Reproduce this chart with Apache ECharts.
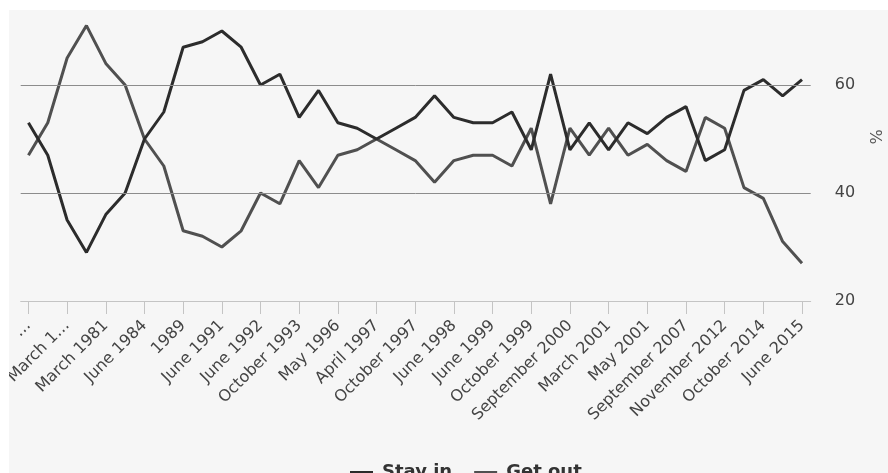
<!DOCTYPE html>
<html>
<head>
<meta charset="utf-8">
<script src="https://cdn.jsdelivr.net/npm/echarts@6/dist/echarts.min.js"></script>
<style>
  html, body { margin: 0; padding: 0; background: #ffffff; }
  #outer { position: relative; width: 888px; height: 473px; background: #ffffff; overflow: hidden; }
  #chart { position: absolute; left: 9px; top: 10px; width: 879px; height: 463px; background: #f6f6f6; }
</style>
</head>
<body>
<div id="outer"><div id="chart"></div></div>
<script>
// Tick labels shown under every second poll (index 0, 2, 4, ... 40)
const tickLabels = [
  "…", "March 1…", "March 1981", "June 1984", "1989", "June 1991", "June 1992",
  "October 1993", "May 1996", "April 1997", "October 1997", "June 1998", "June 1999",
  "October 1999", "September 2000", "March 2001", "May 2001", "September 2007",
  "November 2012", "October 2014", "June 2015"
];

// Poll values (%), one per poll
const stayIn = [
  53, 47, 35, 29, 36, 40, 50, 55, 67, 68,
  70, 67, 60, 62, 54, 59, 53, 52, 50, 52,
  54, 58, 54, 53, 53, 55, 48, 62, 48, 53,
  48, 53, 51, 54, 56, 46, 48, 59, 61, 58,
  61
];
const getOut = [
  47, 53, 65, 71, 64, 60, 50, 45, 33, 32,
  30, 33, 40, 38, 46, 41, 47, 48, 50, 48,
  46, 42, 46, 47, 47, 45, 52, 38, 52, 47,
  52, 47, 49, 46, 44, 54, 52, 41, 39, 31,
  27
];

const yLabelValues = [20, 40, 60];
const gridValues = [40, 60];

const tickPositions = tickLabels.map((_, k) => k * 2);

const chart = echarts.init(document.getElementById('chart'), null, { renderer: 'canvas' });

chart.setOption({
  backgroundColor: 'transparent',
  animation: false,
  textStyle: { fontFamily: 'DejaVu Sans' },
  grid: { left: 11.7, right: 77.3, top: 4.8, bottom: 172, containLabel: false, outerBoundsMode: 'none' },
  legend: {
    data: ['Stay in', 'Get out'],
    left: 341,
    top: 453.5,
    padding: 0,
    icon: 'rect',
    itemWidth: 23,
    itemHeight: 3,
    itemGap: 22,
    textStyle: {
      fontFamily: 'DejaVu Sans',
      fontWeight: 'bold',
      fontSize: 18,
      color: '#333333',
      padding: [0, 0, 0, 4]
    }
  },
  xAxis: {
    type: 'value',
    min: -0.4,
    max: 40.45,
    axisLine: { show: true, lineStyle: { color: '#c4c4c4', width: 1 } },
    axisTick: {
      show: true,
      length: 13,
      customValues: tickPositions,
      lineStyle: { color: '#c4c4c4', width: 1 }
    },
    axisLabel: {
      show: true,
      customValues: tickPositions,
      rotate: 45,
      margin: 22,
      fontFamily: 'DejaVu Sans',
      fontSize: 16,
      color: '#444444',
      formatter: function (v) { return tickLabels[Math.round(v / 2)]; }
    },
    splitLine: { show: false }
  },
  yAxis: {
    type: 'value',
    position: 'right',
    min: 20,
    max: 73,
    name: '%',
    nameLocation: 'middle',
    nameRotate: -90,
    nameGap: 54,
    nameTextStyle: {
      fontFamily: 'DejaVu Sans',
      fontSize: 16,
      color: '#555555',
      padding: [0, 42, 0, 0]
    },
    axisLine: { show: false },
    axisTick: { show: false },
    splitLine: { show: false },
    axisLabel: {
      show: true,
      customValues: yLabelValues,
      margin: 24,
      fontFamily: 'DejaVu Sans',
      fontSize: 16,
      color: '#444444'
    }
  },
  series: [
    {
      name: 'Stay in',
      type: 'line',
      data: stayIn.map((v, i) => [i, v]),
      showSymbol: false,
      symbol: 'none',
      color: '#2c2c2c',
      lineStyle: { color: '#2c2c2c', width: 3 },
      z: 3,
      markLine: {
        silent: true,
        symbol: ['none', 'none'],
        label: { show: false },
        lineStyle: { color: '#8c8c8c', width: 1, type: 'solid' },
        data: gridValues.map(v => ({ yAxis: v }))
      }
    },
    {
      name: 'Get out',
      type: 'line',
      data: getOut.map((v, i) => [i, v]),
      showSymbol: false,
      symbol: 'none',
      color: '#505050',
      lineStyle: { color: '#505050', width: 3 },
      z: 2
    }
  ]
});
</script>
</body>
</html>
